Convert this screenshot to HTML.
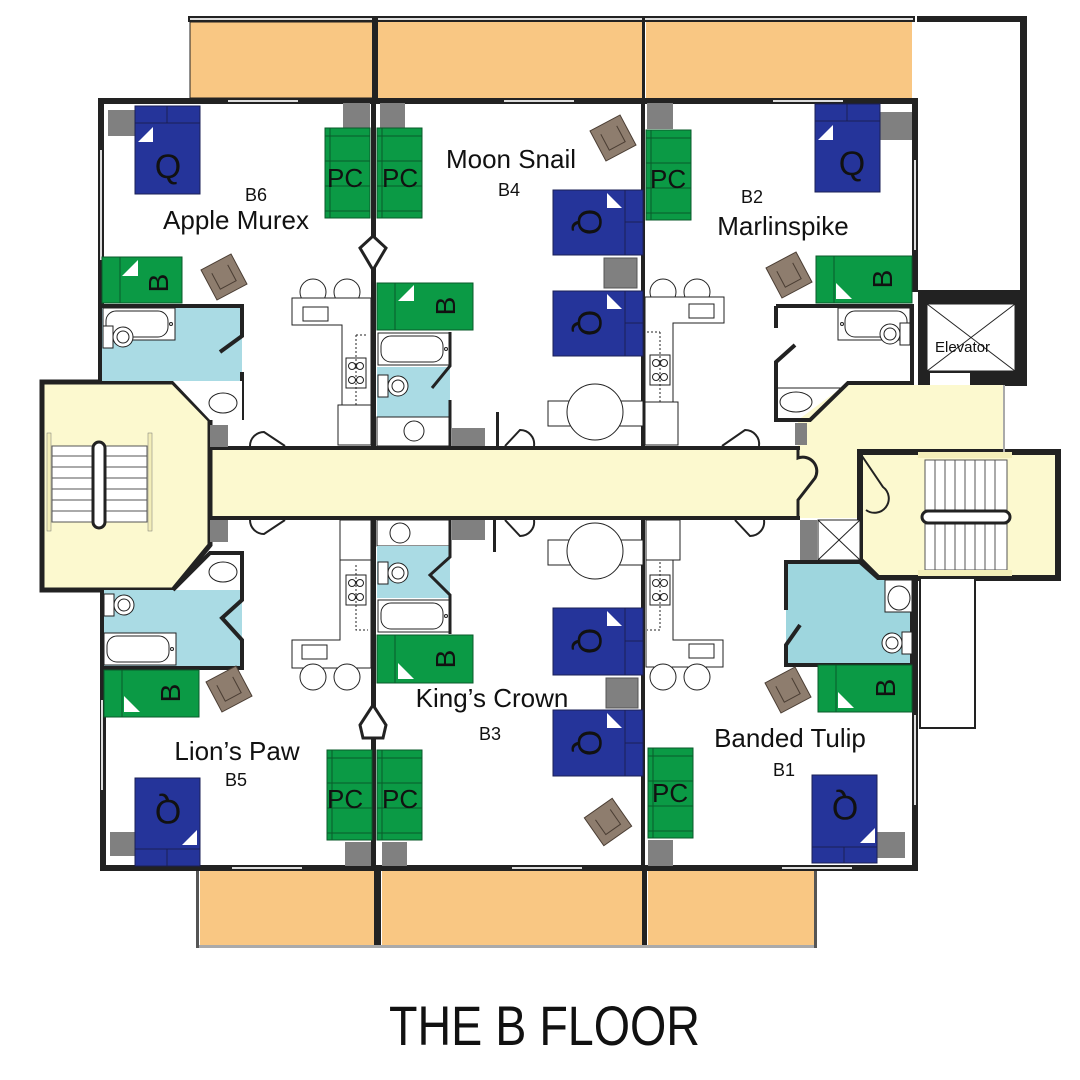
<!DOCTYPE html>
<html><head><meta charset="utf-8"><style>
html,body{margin:0;padding:0;background:#fff;}
svg{display:block;}
text{font-family:"Liberation Sans",sans-serif;fill:#111;}
</style></head><body>
<svg width="1080" height="1080" viewBox="0 0 1080 1080" xmlns="http://www.w3.org/2000/svg">
<defs>
  <g id="bedQ">
    <rect x="0" y="0" width="65" height="88" fill="#25349a" stroke="#1a1f55" stroke-width="1"/>
    <line x1="0" y1="17" x2="65" y2="17" stroke="#1a1f55" stroke-width="1"/>
    <line x1="32" y1="0" x2="32" y2="17" stroke="#1a1f55" stroke-width="1"/>
    <polygon points="3,36 18,21 18,36" fill="#fff"/>
  </g>
  <g id="pc">
    <rect x="0" y="0" width="45" height="90" fill="#0b9a45" stroke="#0a5a2a" stroke-width="1"/>
    <line x1="0" y1="8" x2="45" y2="8" stroke="#0a5a2a"/>
    <line x1="0" y1="33" x2="45" y2="33" stroke="#0a5a2a"/>
    <line x1="0" y1="58" x2="45" y2="58" stroke="#0a5a2a"/>
    <line x1="0" y1="83" x2="45" y2="83" stroke="#0a5a2a"/>
    <line x1="5" y1="0" x2="5" y2="90" stroke="#0a5a2a"/>
  </g>
  <g id="chair">
    <rect x="-17" y="-17" width="34" height="34" fill="#8e7d6e" stroke="#4a3d33" stroke-width="1"/>
    <path d="M-9,-9 V9 H9 V-9" fill="none" stroke="#4a3d33" stroke-width="1"/>
  </g>
  <g id="tub">
    <rect x="0" y="0" width="72" height="32" fill="#fff" stroke="#222" stroke-width="1"/>
    <rect x="3" y="3" width="62" height="26" rx="10" fill="#fff" stroke="#222" stroke-width="1"/>
    <circle cx="68" cy="16" r="1.5" fill="none" stroke="#222"/>
  </g>
  <g id="toilet">
    <rect x="0" y="-10" width="10" height="22" fill="#fff" stroke="#222"/>
    <circle cx="20" cy="1" r="10" fill="#fff" stroke="#222"/>
    <circle cx="20" cy="1" r="6" fill="#fff" stroke="#222"/>
  </g>
  <g id="stove">
    <rect x="0" y="0" width="20" height="30" fill="#fff" stroke="#222"/>
    <circle cx="6" cy="8" r="3.5" fill="none" stroke="#222"/><circle cx="14" cy="8" r="3.5" fill="none" stroke="#222"/>
    <circle cx="6" cy="22" r="3.5" fill="none" stroke="#222"/><circle cx="14" cy="22" r="3.5" fill="none" stroke="#222"/>
  </g>
</defs>

<!-- balconies top -->
<rect x="188" y="16" width="727" height="6" fill="#222"/>
<rect x="190" y="18" width="723" height="2" fill="#ddd"/>
<rect x="190" y="22" width="184" height="76" fill="#f9c783" stroke="#222" stroke-width="1"/>
<rect x="377" y="22" width="266" height="76" fill="#f9c783"/>
<rect x="646" y="22" width="266" height="76" fill="#f9c783"/>
<rect x="372" y="18" width="6" height="82" fill="#222"/>
<rect x="642" y="18" width="3" height="82" fill="#222"/>
<!-- balconies bottom -->
<rect x="200" y="870" width="174" height="76" fill="#f9c783"/>
<rect x="382" y="870" width="260" height="76" fill="#f9c783"/>
<rect x="648" y="870" width="166" height="76" fill="#f9c783"/>
<rect x="374" y="868" width="7" height="78" fill="#222"/>
<rect x="642" y="868" width="5" height="78" fill="#222"/>
<rect x="197" y="945" width="620" height="3" fill="#aaa"/>
<rect x="196" y="868" width="3" height="80" fill="#555"/>
<rect x="814" y="868" width="3" height="80" fill="#555"/>

<!-- right top box -->
<rect x="917" y="16" width="110" height="6" fill="#222"/>
<rect x="1020" y="16" width="7" height="276" fill="#222"/>
<!-- elevator -->
<rect x="918" y="290" width="109" height="96" fill="#222"/>
<rect x="927" y="304" width="88" height="67" fill="#fff" stroke="#222"/>
<line x1="927" y1="304" x2="1015" y2="371" stroke="#222"/>
<line x1="1015" y1="304" x2="927" y2="371" stroke="#222"/>
<rect x="930" y="373" width="40" height="13" fill="#fff"/>
<text x="935" y="352" font-size="15">Elevator</text>

<!-- corridor and stair halls -->
<polygon points="42,382 173,382 210,420 210,448 798,448 798,420 845,385 1005,385 1005,452 860,452 860,518 798,518 210,518 210,545 173,590 42,590" fill="#fcf9cf"/>
<polygon points="860,452 1058,452 1058,578 878,578 860,560" fill="#fcf9cf" stroke="#222" stroke-width="6"/>
<g stroke="#555" stroke-width="1">
<rect x="925" y="460" width="82" height="50" fill="#fff"/>
<rect x="925" y="524" width="82" height="46" fill="#fff"/>
<line x1="935" y1="460" x2="935" y2="510"/><line x1="945" y1="460" x2="945" y2="510"/><line x1="955" y1="460" x2="955" y2="510"/><line x1="965" y1="460" x2="965" y2="510"/><line x1="975" y1="460" x2="975" y2="510"/><line x1="985" y1="460" x2="985" y2="510"/><line x1="995" y1="460" x2="995" y2="510"/>
<line x1="935" y1="524" x2="935" y2="570"/><line x1="945" y1="524" x2="945" y2="570"/><line x1="955" y1="524" x2="955" y2="570"/><line x1="965" y1="524" x2="965" y2="570"/><line x1="975" y1="524" x2="975" y2="570"/><line x1="985" y1="524" x2="985" y2="570"/><line x1="995" y1="524" x2="995" y2="570"/>
</g>
<rect x="922" y="511" width="88" height="12" rx="6" fill="#fff" stroke="#222" stroke-width="3"/>
<rect x="918" y="452" width="94" height="6" fill="#f3eeb8"/>
<rect x="918" y="570" width="94" height="6" fill="#f3eeb8"/>
<!-- left stair -->
<polygon points="42,382 173,382 210,420 210,448 210,518 210,545 173,590 42,590" fill="none" stroke="#222" stroke-width="5"/>
<g stroke="#555" stroke-width="1" fill="#fff">
<rect x="52" y="446" width="95" height="76"/>
<line x1="52" y1="456" x2="147" y2="456"/><line x1="52" y1="467" x2="147" y2="467"/><line x1="52" y1="478" x2="147" y2="478"/><line x1="52" y1="489" x2="147" y2="489"/><line x1="52" y1="500" x2="147" y2="500"/><line x1="52" y1="511" x2="147" y2="511"/>
</g>
<rect x="47" y="433" width="4" height="98" fill="#f3eeb8" stroke="#777" stroke-width="0.5"/>
<rect x="148" y="433" width="4" height="98" fill="#f3eeb8" stroke="#777" stroke-width="0.5"/>
<rect x="93" y="442" width="12" height="86" rx="6" fill="#fff" stroke="#222" stroke-width="3"/>

<!-- ===== TOP UNITS walls ===== -->
<rect x="98" y="98" width="820" height="6" fill="#222"/>
<rect x="228" y="100" width="70" height="2" fill="#ddd"/>
<rect x="504" y="100" width="70" height="2" fill="#ddd"/>
<rect x="773" y="100" width="70" height="2" fill="#ddd"/>
<rect x="98" y="98" width="6" height="284" fill="#222"/>
<rect x="100" y="150" width="2" height="110" fill="#ddd"/>
<rect x="912" y="98" width="6" height="194" fill="#222"/>
<rect x="914" y="160" width="2" height="90" fill="#ddd"/>
<rect x="371" y="100" width="5" height="348" fill="#222"/>
<rect x="641" y="100" width="4" height="348" fill="#222"/>
<rect x="208" y="446" width="592" height="4" fill="#222"/>
<rect x="208" y="516" width="592" height="4" fill="#222"/>

<!-- B6 -->
<rect x="108" y="110" width="27" height="26" fill="#808080"/>
<use href="#bedQ" x="135" y="106"/>
<text x="168" y="178" font-size="34" text-anchor="middle" fill="#111">Q</text>
<rect x="343" y="103" width="27" height="26" fill="#808080"/>
<rect x="380" y="103" width="25" height="26" fill="#808080"/>
<use href="#pc" x="325" y="128"/>
<use href="#pc" x="377" y="128"/>
<text x="327" y="187" font-size="26" fill="#111">PC</text>
<text x="382" y="187" font-size="26" fill="#111">PC</text>
<polygon points="360,248 373,236 386,248 373,270" fill="#fff" stroke="#222" stroke-width="3"/>
<rect x="102" y="257" width="80" height="46" fill="#0b9a45" stroke="#0a5a2a"/>
<line x1="120" y1="257" x2="120" y2="303" stroke="#0a5a2a"/>
<polygon points="122,276 138,260 138,276" fill="#fff"/>
<text transform="translate(158,283) rotate(-90)" font-size="28" text-anchor="middle" fill="#111" dy="10">B</text>
<use href="#chair" transform="translate(224,277) rotate(-28)"/>
<text x="256" y="201" font-size="18" text-anchor="middle">B6</text>
<text x="236" y="229" font-size="26" text-anchor="middle">Apple Murex</text>
<!-- B6 bath -->
<rect x="102" y="306" width="140" height="75" fill="#aadbe4"/>
<path d="M102,306 H242 V336 L220,352 M242,372 V420" fill="none" stroke="#222" stroke-width="4"/>
<use href="#tub" x="103" y="308"/>
<use href="#toilet" x="103" y="336"/>
<polygon points="173,381 242,381 242,420 210,420" fill="#fff"/>
<ellipse cx="223" cy="403" rx="14" ry="10" fill="#fff" stroke="#222"/>
<!-- B6 kitchen -->
<circle cx="313" cy="292" r="13" fill="#fff" stroke="#222"/>
<circle cx="347" cy="292" r="13" fill="#fff" stroke="#222"/>
<path d="M292,298 H371 V445 H338 V405 H342 V325 H292 Z" fill="#fff" stroke="#222"/>
<line x1="338" y1="405" x2="371" y2="405" stroke="#222"/>
<rect x="303" y="307" width="25" height="14" fill="#fff" stroke="#222"/>
<use href="#stove" x="346" y="358"/>
<path d="M356,335 V405 M356,335 H368" fill="none" stroke="#222" stroke-dasharray="2,2"/>
<rect x="210" y="425" width="18" height="22" fill="#808080"/>
<path d="M250,446 A14,14 0 0 1 264,432 L285,446" fill="none" stroke="#222" stroke-width="2"/>

<!-- B4 -->
<text x="511" y="168" font-size="26" text-anchor="middle">Moon Snail</text>
<text x="509" y="196" font-size="18" text-anchor="middle">B4</text>
<use href="#chair" transform="translate(613,138) rotate(-28)"/>
<rect x="553" y="190" width="90" height="65" fill="#25349a" stroke="#1a1f55"/>
<line x1="625" y1="190" x2="625" y2="255" stroke="#1a1f55"/><line x1="625" y1="222" x2="643" y2="222" stroke="#1a1f55"/>
<polygon points="607,193 622,208 607,208" fill="#fff"/>
<text transform="translate(590,222) rotate(90)" font-size="34" text-anchor="middle" dy="12">Q</text>
<rect x="604" y="258" width="33" height="30" fill="#808080" stroke="#555"/>
<rect x="553" y="291" width="90" height="65" fill="#25349a" stroke="#1a1f55"/>
<line x1="625" y1="291" x2="625" y2="356" stroke="#1a1f55"/><line x1="625" y1="323" x2="643" y2="323" stroke="#1a1f55"/>
<polygon points="607,294 622,309 607,309" fill="#fff"/>
<text transform="translate(590,323) rotate(90)" font-size="34" text-anchor="middle" dy="12">Q</text>
<rect x="377" y="283" width="96" height="47" fill="#0b9a45" stroke="#0a5a2a"/>
<line x1="395" y1="283" x2="395" y2="330" stroke="#0a5a2a"/>
<polygon points="398,301 414,285 414,301" fill="#fff"/>
<text transform="translate(445,306) rotate(-90)" font-size="28" text-anchor="middle" dy="10">B</text>
<rect x="377" y="332" width="73" height="36" fill="#fff"/>
<use href="#tub" x="378" y="333"/>
<rect x="377" y="367" width="73" height="50" fill="#aadbe4"/>
<use href="#toilet" x="378" y="385"/>
<rect x="377" y="417" width="73" height="29" fill="#fff" stroke="#222"/>
<circle cx="414" cy="431" r="10" fill="#fff" stroke="#222"/>
<path d="M450,332 V366 L432,388 M450,400 V446" fill="none" stroke="#222" stroke-width="3"/>
<rect x="452" y="428" width="33" height="18" fill="#808080"/>
<rect x="496" y="412" width="3" height="35" fill="#222"/>
<path d="M505,446 L520,430 A14,14 0 0 1 534,446" fill="none" stroke="#222" stroke-width="2"/>
<rect x="548" y="401" width="28" height="25" fill="#fff" stroke="#222"/>
<rect x="615" y="401" width="28" height="25" fill="#fff" stroke="#222"/>
<circle cx="595" cy="412" r="28" fill="#fff" stroke="#222"/>

<!-- B2 -->
<rect x="647" y="103" width="26" height="26" fill="#808080"/>
<use href="#pc" x="646" y="130"/>
<text x="650" y="188" font-size="26">PC</text>
<rect x="880" y="112" width="32" height="28" fill="#808080"/>
<use href="#bedQ" x="815" y="104"/>
<text x="852" y="175" font-size="34" text-anchor="middle">Q</text>
<text x="752" y="203" font-size="18" text-anchor="middle">B2</text>
<text x="783" y="235" font-size="26" text-anchor="middle">Marlinspike</text>
<rect x="816" y="256" width="96" height="47" fill="#0b9a45" stroke="#0a5a2a"/>
<line x1="834" y1="256" x2="834" y2="303" stroke="#0a5a2a"/>
<polygon points="836,283 852,299 836,299" fill="#fff"/>
<text transform="translate(882,279) rotate(-90)" font-size="28" text-anchor="middle" dy="10">B</text>
<use href="#chair" transform="translate(789,275) rotate(-28)"/>
<!-- B2 bath -->
<path d="M776,306 H912 V383 H848 L810,420 H776 V362 L795,345 M776,328 V306" fill="none" stroke="#222" stroke-width="4"/>
<g transform="translate(910,308) scale(-1,1)"><use href="#tub"/></g>
<g transform="translate(910,333) scale(-1,1)"><use href="#toilet"/></g>
<line x1="776" y1="388" x2="843" y2="388" stroke="#222"/>
<ellipse cx="796" cy="402" rx="16" ry="10" fill="#fff" stroke="#222"/>
<rect x="795" y="423" width="12" height="22" fill="#808080"/>
<!-- B2 kitchen -->
<circle cx="663" cy="292" r="13" fill="#fff" stroke="#222"/>
<circle cx="697" cy="292" r="13" fill="#fff" stroke="#222"/>
<path d="M645,297 H724 V323 H673 V402 H678 V445 H645 Z" fill="#fff" stroke="#222"/>
<line x1="645" y1="402" x2="678" y2="402" stroke="#222"/>
<rect x="689" y="304" width="25" height="14" fill="#fff" stroke="#222"/>
<use href="#stove" x="650" y="355"/>
<path d="M660,332 V402 M647,332 H660" fill="none" stroke="#222" stroke-dasharray="2,2"/>
<path d="M722,446 L745,430 A14,14 0 0 1 759,446" fill="none" stroke="#222" stroke-width="2"/>
<path d="M798,448 L798,458 A14,14 0 0 1 815,478 L798,500 V518" fill="none" stroke="#222" stroke-width="3"/>
<path d="M862,456 L883,487 A14,14 0 0 1 866,510" fill="none" stroke="#222" stroke-width="2"/>
<rect x="1003" y="385" width="2" height="67" fill="#aaa"/>

<!-- ===== BOTTOM UNITS walls ===== -->
<rect x="100" y="865" width="818" height="6" fill="#222"/>
<rect x="232" y="867" width="70" height="2" fill="#ddd"/>
<rect x="512" y="867" width="70" height="2" fill="#ddd"/>
<rect x="782" y="867" width="70" height="2" fill="#ddd"/>
<rect x="100" y="590" width="6" height="281" fill="#222"/>
<rect x="101" y="700" width="2" height="90" fill="#ddd"/>
<rect x="912" y="578" width="6" height="293" fill="#222"/>
<rect x="914" y="715" width="2" height="90" fill="#ddd"/>
<rect x="371" y="518" width="5" height="350" fill="#222"/>
<rect x="641" y="518" width="4" height="350" fill="#222"/>
<rect x="920" y="578" width="55" height="150" fill="#fff" stroke="#222" stroke-width="2"/>

<!-- B5 -->
<rect x="210" y="520" width="18" height="22" fill="#808080"/>
<path d="M250,520 A14,14 0 0 0 264,534 L285,520" fill="none" stroke="#222" stroke-width="2"/>
<polygon points="173,590 210,553 242,553 242,590" fill="#fff"/>
<ellipse cx="223" cy="572" rx="14" ry="10" fill="#fff" stroke="#222"/>
<rect x="104" y="590" width="138" height="76" fill="#aadbe4"/>
<path d="M173,590 L210,553 H242 V600 L222,618 L242,640 V668 H104" fill="none" stroke="#222" stroke-width="4"/>
<use href="#toilet" x="104" y="604"/>
<use href="#tub" x="104" y="633"/>
<rect x="104" y="670" width="95" height="47" fill="#0b9a45" stroke="#0a5a2a"/>
<line x1="122" y1="670" x2="122" y2="717" stroke="#0a5a2a"/>
<polygon points="124,696 140,712 124,712" fill="#fff"/>
<text transform="translate(170,693) rotate(-90)" font-size="28" text-anchor="middle" dy="10">B</text>
<use href="#chair" transform="translate(229,689) rotate(-28)"/>
<text x="237" y="760" font-size="26" text-anchor="middle">Lion’s Paw</text>
<text x="236" y="786" font-size="18" text-anchor="middle">B5</text>
<rect x="110" y="832" width="25" height="24" fill="#808080"/>
<rect x="135" y="778" width="65" height="88" fill="#25349a" stroke="#1a1f55"/>
<line x1="135" y1="849" x2="200" y2="849" stroke="#1a1f55"/><line x1="167" y1="849" x2="167" y2="866" stroke="#1a1f55"/>
<polygon points="197,830 182,845 197,845" fill="#fff"/>
<text transform="translate(168,812) rotate(180)" font-size="34" text-anchor="middle" dy="12">Q</text>
<use href="#pc" x="327" y="750"/>
<use href="#pc" x="377" y="750"/>
<text x="327" y="808" font-size="26">PC</text>
<text x="382" y="808" font-size="26">PC</text>
<rect x="345" y="842" width="26" height="24" fill="#808080"/>
<rect x="382" y="842" width="25" height="24" fill="#808080"/>
<polygon points="360,725 373,705 386,725 383,738 363,738" fill="#fff" stroke="#222" stroke-width="3"/>
<!-- B5 kitchen -->
<path d="M340,520 H371 V668 H292 V640 H340 Z" fill="#fff" stroke="#222"/>
<line x1="340" y1="560" x2="371" y2="560" stroke="#222"/>
<rect x="302" y="645" width="25" height="14" fill="#fff" stroke="#222"/>
<use href="#stove" x="346" y="575"/>
<path d="M356,565 V630 H368" fill="none" stroke="#222" stroke-dasharray="2,2"/>
<circle cx="313" cy="677" r="13" fill="#fff" stroke="#222"/>
<circle cx="347" cy="677" r="13" fill="#fff" stroke="#222"/>

<!-- B3 -->
<rect x="377" y="520" width="73" height="26" fill="#fff" stroke="#222"/>
<circle cx="400" cy="533" r="10" fill="#fff" stroke="#222"/>
<rect x="377" y="546" width="73" height="52" fill="#aadbe4"/>
<use href="#toilet" x="378" y="572"/>
<rect x="377" y="598" width="73" height="36" fill="#fff"/>
<use href="#tub" x="378" y="600"/>
<path d="M450,520 V557 L430,575 L450,595 V634" fill="none" stroke="#222" stroke-width="3"/>
<rect x="452" y="520" width="33" height="20" fill="#808080"/>
<rect x="493" y="520" width="3" height="32" fill="#222"/>
<path d="M505,520 L520,536 A14,14 0 0 0 534,520" fill="none" stroke="#222" stroke-width="2"/>
<rect x="377" y="635" width="96" height="48" fill="#0b9a45" stroke="#0a5a2a"/>
<line x1="395" y1="635" x2="395" y2="683" stroke="#0a5a2a"/>
<polygon points="398,663 414,679 398,679" fill="#fff"/>
<text transform="translate(445,659) rotate(-90)" font-size="28" text-anchor="middle" dy="10">B</text>
<rect x="548" y="540" width="28" height="25" fill="#fff" stroke="#222"/>
<rect x="615" y="540" width="28" height="25" fill="#fff" stroke="#222"/>
<circle cx="595" cy="551" r="28" fill="#fff" stroke="#222"/>
<rect x="553" y="608" width="90" height="67" fill="#25349a" stroke="#1a1f55"/>
<line x1="625" y1="608" x2="625" y2="675" stroke="#1a1f55"/><line x1="625" y1="641" x2="643" y2="641" stroke="#1a1f55"/>
<polygon points="607,611 622,626 607,626" fill="#fff"/>
<text transform="translate(590,641) rotate(90)" font-size="34" text-anchor="middle" dy="12">Q</text>
<rect x="606" y="678" width="32" height="30" fill="#808080" stroke="#555"/>
<rect x="553" y="710" width="90" height="66" fill="#25349a" stroke="#1a1f55"/>
<line x1="625" y1="710" x2="625" y2="776" stroke="#1a1f55"/><line x1="625" y1="743" x2="643" y2="743" stroke="#1a1f55"/>
<polygon points="607,713 622,728 607,728" fill="#fff"/>
<text transform="translate(590,743) rotate(90)" font-size="34" text-anchor="middle" dy="12">Q</text>
<text x="492" y="707" font-size="26" text-anchor="middle">King’s Crown</text>
<text x="490" y="740" font-size="18" text-anchor="middle">B3</text>
<use href="#chair" transform="translate(608,822) rotate(-35)"/>

<!-- B1 -->
<path d="M646,520 H680 V560 H673 V640 H723 V667 H646 Z" fill="#fff" stroke="#222"/>
<line x1="646" y1="560" x2="680" y2="560" stroke="#222"/>
<rect x="689" y="644" width="25" height="14" fill="#fff" stroke="#222"/>
<use href="#stove" x="650" y="575"/>
<path d="M660,562 V630 H647" fill="none" stroke="#222" stroke-dasharray="2,2"/>
<circle cx="663" cy="677" r="13" fill="#fff" stroke="#222"/>
<circle cx="697" cy="677" r="13" fill="#fff" stroke="#222"/>
<path d="M735,520 L750,536 A14,14 0 0 0 764,520" fill="none" stroke="#222" stroke-width="2"/>
<rect x="800" y="520" width="17" height="40" fill="#808080"/>
<rect x="818" y="520" width="42" height="40" fill="#fff" stroke="#222"/>
<line x1="818" y1="520" x2="860" y2="560" stroke="#222"/><line x1="860" y1="520" x2="818" y2="560" stroke="#222"/>
<polygon points="786,562 860,562 878,578 912,578 912,665 786,665" fill="#9ed6de"/>
<path d="M786,610 V562 H860 L878,578 H912 V665 H786 V645 L800,625" fill="none" stroke="#222" stroke-width="4"/>
<rect x="885" y="580" width="27" height="32" fill="#fff" stroke="#222"/>
<ellipse cx="899" cy="598" rx="11" ry="12" fill="#fff" stroke="#222"/>
<g transform="translate(912,642) scale(-1,1)"><use href="#toilet"/></g>
<rect x="818" y="665" width="94" height="47" fill="#0b9a45" stroke="#0a5a2a"/>
<line x1="836" y1="665" x2="836" y2="712" stroke="#0a5a2a"/>
<polygon points="838,692 854,708 838,708" fill="#fff"/>
<text transform="translate(885,688) rotate(-90)" font-size="28" text-anchor="middle" dy="10">B</text>
<use href="#chair" transform="translate(788,690) rotate(-28)"/>
<text x="790" y="747" font-size="26" text-anchor="middle">Banded Tulip</text>
<text x="784" y="776" font-size="18" text-anchor="middle">B1</text>
<use href="#pc" x="648" y="748"/>
<text x="652" y="802" font-size="26">PC</text>
<rect x="648" y="840" width="25" height="26" fill="#808080"/>
<rect x="877" y="832" width="28" height="26" fill="#808080"/>
<rect x="812" y="775" width="65" height="88" fill="#25349a" stroke="#1a1f55"/>
<line x1="812" y1="847" x2="877" y2="847" stroke="#1a1f55"/><line x1="844" y1="847" x2="844" y2="863" stroke="#1a1f55"/>
<polygon points="875,828 860,843 875,843" fill="#fff"/>
<text transform="translate(845,808) rotate(180)" font-size="34" text-anchor="middle" dy="12">Q</text>

<!-- title -->
<text x="389" y="1045" font-size="56" textLength="311" lengthAdjust="spacingAndGlyphs">THE B FLOOR</text>
</svg>
</body></html>
